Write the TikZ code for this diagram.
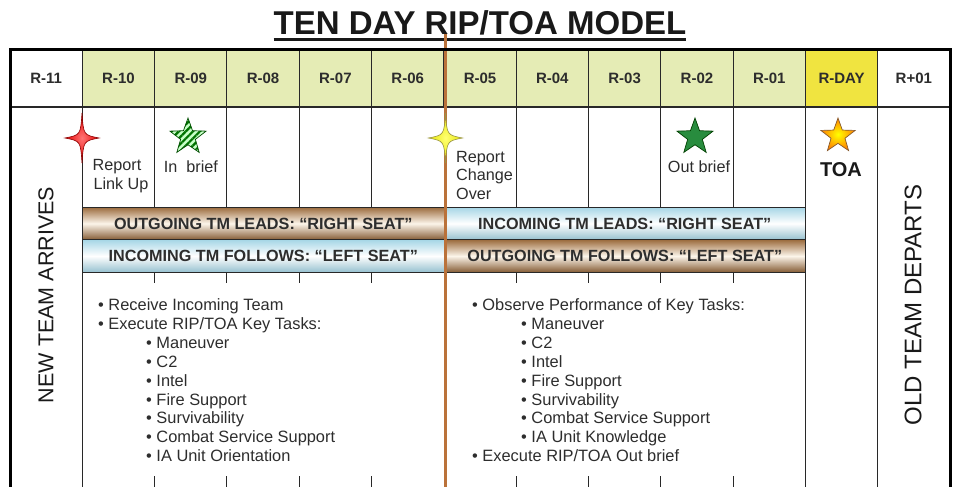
\documentclass[tikz,border=0pt]{standalone}
\usepackage{fontspec}
\setmainfont{Liberation Sans}
\usetikzlibrary{positioning,shapes.geometric,patterns.meta}

\definecolor{hdrgreen}{RGB}{229,236,181}
\definecolor{rdayyellow}{RGB}{240,228,64}
\definecolor{splitbrown}{RGB}{186,114,58}
\definecolor{bandbrown}{RGB}{156,108,62}
\definecolor{bandcream}{RGB}{252,245,234}
\definecolor{bandblue}{RGB}{166,214,230}
\definecolor{gridgray}{RGB}{40,40,40}
\definecolor{txtgray}{RGB}{45,45,45}

\newcommand{\fs}[2]{\fontsize{#1}{#2}\selectfont}

\begin{document}
\begin{tikzpicture}[
  x=1pt, y=-1pt,
  text=txtgray,
  grid line/.style={draw=gridgray, line width=1.1pt},
  day head/.style={
    draw=gridgray,
    line width=1.1pt,
    fill=#1,
    minimum width=72.31pt,
    minimum height=57pt,
    inner sep=0pt,
    outer sep=0pt,
    font=\fs{15}{18}\bfseries
  },
  seat band/.style={
    draw=gridgray,
    line width=0.8pt,
    minimum width=361.5pt,
    minimum height=32.5pt,
    inner sep=0pt,
    outer sep=0pt,
    font=\fs{16.2}{18}\bfseries
  },
  brown band/.style={seat band, top color=bandbrown, bottom color=bandbrown!85!black,
    middle color=bandcream},
  blue band/.style={seat band, top color=bandblue, bottom color=bandblue!90!black,
    middle color=white},
  cell note/.style={font=\fs{16.2}{18.5}, align=left, inner sep=0pt},
  task list/.style={font=\fs{16.4}{18.9}, align=left, inner sep=0pt},
  team side/.style={rotate=90, text=black!90, inner sep=0pt},
  sparkle/.style={draw=#1!55!black, line width=0.6pt, shading=radial,
    inner color=#1!55!white, outer color=#1!90!black},
  five star/.style={star, star points=5, star point ratio=2.45, inner sep=0pt,
    minimum size=38pt, line width=0.7pt}
]

\clip (0,0) rectangle (954,487);
\fill[white] (0,0) rectangle (954,487);

% title
\node[font=\fs{33}{36}\bfseries, text=black!90, inner sep=0pt, anchor=base] (title)
  at (480,35) {TEN DAY RIP/TOA MODEL};
\draw[line width=2.6pt, black!90] ([yshift=-4.5pt]title.base west) --
  ([yshift=-4.5pt]title.base east);

% day headers
\foreach \lab/\col [count=\i from 0] in {R-11/white, R-10/hdrgreen, R-09/hdrgreen,
    R-08/hdrgreen, R-07/hdrgreen, R-06/hdrgreen, R-05/hdrgreen, R-04/hdrgreen,
    R-03/hdrgreen, R-02/hdrgreen, R-01/hdrgreen, R-DAY/rdayyellow, R+01/white}
  \node[day head=\col] (day\i) at ({10+72.31*(\i+0.5)},78.5) {\lab};

% cell walls of the event row, full height where cells are merged
\foreach \i in {2,3,4,5,7,8,9,10}
  \draw[grid line] (day\i.south west) -- ++(0,100);
\foreach \i in {1,11,12}
  \draw[grid line] (day\i.south west) -- ++(0,400);

% seat bands
\node[brown band] (lead out) at (263.25,223.5) {OUTGOING TM LEADS: “RIGHT SEAT”};
\node[blue band,right=0pt of lead out] (lead in) {INCOMING TM LEADS: “RIGHT SEAT”};
\node[blue band,below=0pt of lead out] (follow in) {INCOMING TM FOLLOWS: “LEFT SEAT”};
\node[brown band,below=0pt of lead in] (follow out) {OUTGOING TM FOLLOWS: “LEFT SEAT”};

% short ticks left of the task lists
\foreach \i in {2,3,4,5,7,8,9,10} {
  \draw[grid line] ({10+72.31*\i},272) -- ++(0,11);
  \draw[grid line] ({10+72.31*\i},476) -- ++(0,12);
}

% events
\draw[sparkle=red, shift={(82,138)}] (0,-25) .. controls (1.5,-3) .. (17,0)
  .. controls (1.5,3) .. (0,25) .. controls (-1.5,3) .. (-17,0)
  .. controls (-1.5,-3) .. (0,-25) -- cycle;
\node[cell note, align=center] (linkup note) at (117,176) {Report\\\hspace*{8pt}Link Up};

\node[five star, draw=green!30!black, preaction={fill=green!22},
  pattern={Lines[angle=45,distance=5pt,line width=2.2pt]},
  pattern color=green!45!black] (inbrief star) at (188,137) {};
\node[cell note] (inbrief note) at (191,167) {In\ \ brief};

\node[five star, draw=green!25!black, fill={rgb,255:red,40;green,140;blue,62}]
  (outbrief star) at (695,137) {};
\node[cell note] (outbrief note) at (699,167) {Out brief};

\node[five star, minimum size=36pt, draw=brown!70!black, shading=radial,
  inner color=yellow, outer color=orange] (toa star) at (838,136) {};
\node[font=\fs{20}{20}\bfseries, text=black!90, inner sep=0pt] (toa note)
  at (841,170) {TOA};

% handover split
\draw[splitbrown, line width=3.5pt] (445.5,34) -- (445.5,490);

\draw[sparkle=yellow, shift={(445.5,138)}] (0,-25) .. controls (1.5,-3) .. (17,0)
  .. controls (1.5,3) .. (0,25) .. controls (-1.5,3) .. (-17,0)
  .. controls (-1.5,-3) .. (0,-25) -- cycle;
\node[cell note, anchor=north west] (changeover note) at (456,151)
  {Report\\Change\\Over};

% task lists
\node[task list, anchor=north west] (incoming tasks) at (98,298.5) {
  \textbullet\ Receive Incoming Team\\
  \textbullet\ Execute RIP/TOA Key Tasks:\\
  \hspace*{48pt}\textbullet\ Maneuver\\
  \hspace*{48pt}\textbullet\ C2\\
  \hspace*{48pt}\textbullet\ Intel\\
  \hspace*{48pt}\textbullet\ Fire Support\\
  \hspace*{48pt}\textbullet\ Survivability\\
  \hspace*{48pt}\textbullet\ Combat Service Support\\
  \hspace*{48pt}\textbullet\ IA Unit Orientation};

\node[task list, anchor=north west] (outgoing tasks) at (472,298.5) {
  \textbullet\ Observe Performance of Key Tasks:\\
  \hspace*{49pt}\textbullet\ Maneuver\\
  \hspace*{49pt}\textbullet\ C2\\
  \hspace*{49pt}\textbullet\ Intel\\
  \hspace*{49pt}\textbullet\ Fire Support\\
  \hspace*{49pt}\textbullet\ Survivability\\
  \hspace*{49pt}\textbullet\ Combat Service Support\\
  \hspace*{49pt}\textbullet\ IA Unit Knowledge\\
  \textbullet\ Execute RIP/TOA Out brief};

% merged side columns
\node[team side, font=\fs{21.5}{22}] (new team) at (46,295) {NEW TEAM ARRIVES};
\node[team side, font=\fs{24}{24}] (old team) at (913,305) {OLD TEAM DEPARTS};

% outer frame, open at the cut
\draw[black, line width=3pt] (10,500) -- (10,50) -- (950,50) -- (950,500);

\end{tikzpicture}
\end{document}
